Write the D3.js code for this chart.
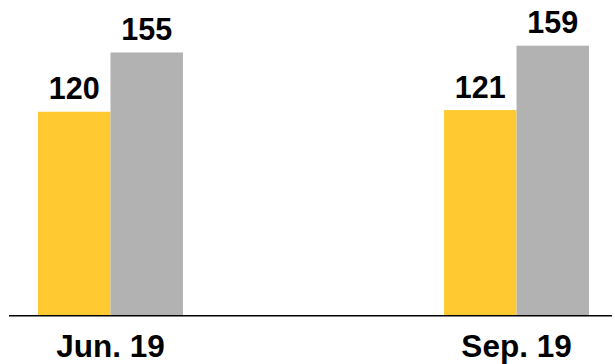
<!DOCTYPE html>
<html><head><meta charset="utf-8">
<script src="https://cdn.jsdelivr.net/npm/d3@7"></script>
<style>body{margin:0;background:#fff}svg{display:block}</style>
</head><body>
<script>
const categories = ["Jun. 19", "Sep. 19"];
const seriesNames = ["A", "B"];
const seriesA = [120, 121];
const seriesB = [155, 159];
const colors = ["#FFCA31", "#B2B2B2"];

const W = 615, H = 364;
const svg = d3.select("body").append("svg").attr("width", W).attr("height", H);
const x = d3.scaleBand().domain(categories).range([38, 589]).paddingInner(0.643).paddingOuter(0);
const xs = d3.scaleBand().domain(seriesNames).range([0, x.bandwidth()]).padding(0);
const y = d3.scaleLinear().domain([0, 160]).range([315, 44]);

const data = categories.map((c, i) => ({c, vals: [seriesA[i], seriesB[i]]}));
const g = svg.append("g");
data.forEach(d => {
  d.vals.forEach((v, j) => {
    const bx = x(d.c) + xs(seriesNames[j]);
    g.append("rect").attr("x", bx).attr("y", y(v)).attr("width", xs.bandwidth()).attr("height", y(0) - y(v)).attr("fill", colors[j]);
    g.append("text").attr("x", bx + xs.bandwidth()/2).attr("y", y(v) - 12.5)
      .attr("text-anchor", "middle").attr("font-family", "Liberation Sans, Arial, sans-serif")
      .attr("font-weight", "bold").attr("font-size", 30.5).attr("fill", "#000").text(v);
  });
});
svg.append("line").attr("x1", 9).attr("x2", 612).attr("y1", 315.8).attr("y2", 315.8).attr("stroke", "#000").attr("stroke-width", 1.6);
const xAxis = d3.axisBottom(x).tickSize(0).tickPadding(0);
const ax = svg.append("g").attr("transform", "translate(0,315)").call(xAxis);
ax.select(".domain").remove();
ax.selectAll("text").attr("y", 42).attr("dy", 0).attr("font-family", "Liberation Sans, Arial, sans-serif")
  .attr("font-weight", "bold").attr("font-size", 31.5).attr("fill", "#000");
</script>
</body></html>
